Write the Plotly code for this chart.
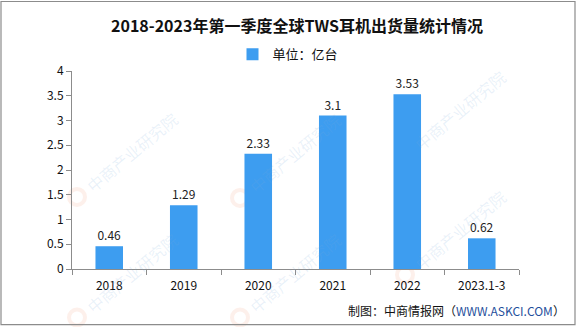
import plotly.graph_objects as go

# Data
years = ["2018", "2019", "2020", "2021", "2022", "2023.1-3"]
shipments = [0.46, 1.29, 2.33, 3.1, 3.53, 0.62]
value_labels = ["0.46", "1.29", "2.33", "3.1", "3.53", "0.62"]
y_ticks = [0, 0.5, 1, 1.5, 2, 2.5, 3, 3.5, 4]
y_tick_text = ["0", "0.5", "1", "1.5", "2", "2.5", "3", "3.5", "4"]

title_text = "2018-2023年第一季度全球TWS耳机出货量统计情况"
legend_name = "单位：亿台"
source_text = "制图：中商情报网（<span style='color:#1f4f9c'>WWW.ASKCI.COM</span>）"
watermark = "中商产业研究院"

BAR = "#3d9df0"
AXIS = "#8c8c8c"
FONT = "Noto Sans CJK SC"

W, H = 585, 327
L, R, T, B = 72, 66, 70.7, 57.7
pw, ph = W - L - R, H - T - B


def px_x(x):
    return (x - L) / pw


def px_y(y_from_top):
    return (H - y_from_top - B) / ph


fig = go.Figure()
fig.add_trace(go.Bar(
    x=years, y=shipments, name=legend_name,
    marker=dict(color=BAR, line=dict(width=0)),
    text=value_labels, textposition="outside",
    textfont=dict(family=FONT, size=12, color="#222"),
    cliponaxis=False,
))

annotations = [
    dict(text=f"<b>{title_text}</b>", x=px_x(297), y=px_y(25),
         xanchor="center", yanchor="middle",
         xref="paper", yref="paper", showarrow=False,
         font=dict(family=FONT, size=16, color="#111")),
    dict(text=source_text, x=px_x(567), y=px_y(311),
         xanchor="right", yanchor="middle",
         xref="paper", yref="paper", showarrow=False,
         font=dict(family=FONT, size=12, color="#111")),
]

# faint diagonal watermarks with a small ring logo
wm_logos = [(77, 197), (240, 198), (405, 155), (405, 275),
            (77, 318), (240, 318)]
logo_shapes = []
for (lx, ly) in wm_logos:
    annotations.append(dict(text=watermark, x=px_x(lx + 55), y=px_y(ly - 45),
                            xanchor="center", yanchor="middle",
                            xref="paper", yref="paper", showarrow=False,
                            textangle=-40,
                            font=dict(family=FONT, size=16,
                                      color="rgba(120,170,220,0.16)")))
    logo_shapes.append(dict(type="circle", xref="paper", yref="paper",
                            x0=px_x(lx - 8), x1=px_x(lx + 8),
                            y0=px_y(ly + 8), y1=px_y(ly - 8),
                            line=dict(color="rgba(240,160,130,0.16)", width=4),
                            layer="below"))

# outer frame
frame = dict(type="rect", xref="paper", yref="paper",
             x0=px_x(1), x1=px_x(575), y0=px_y(325), y1=px_y(1),
             line=dict(color=AXIS, width=1.2))

fig.update_layout(
    width=W, height=H,
    margin=dict(l=L, r=R, t=T, b=B),
    paper_bgcolor="white", plot_bgcolor="white",
    bargap=0.63,
    showlegend=True,
    legend=dict(orientation="h", x=px_x(288), xanchor="center", y=px_y(54),
                yanchor="middle", font=dict(family=FONT, size=13, color="#111"),
                itemwidth=30, bgcolor="rgba(0,0,0,0)"),
    annotations=annotations,
    shapes=logo_shapes + [frame],
    font=dict(family=FONT, size=12, color="#111"),
)
fig.update_xaxes(
    type="category", showline=True, linecolor=AXIS, linewidth=1,
    ticks="outside", tickson="boundaries", ticklen=5, tickcolor=AXIS,
    showgrid=False, ticklabelstandoff=6,
    tickfont=dict(family=FONT, size=12, color="#111"),
)
fig.update_yaxes(
    range=[0, 4], tickvals=y_ticks, ticktext=y_tick_text,
    showline=True, linecolor=AXIS, linewidth=1,
    ticks="outside", ticklen=5, tickcolor=AXIS,
    showgrid=False, zeroline=False,
    tickfont=dict(family=FONT, size=12, color="#111"),
)

fig.write_html("out.html")
